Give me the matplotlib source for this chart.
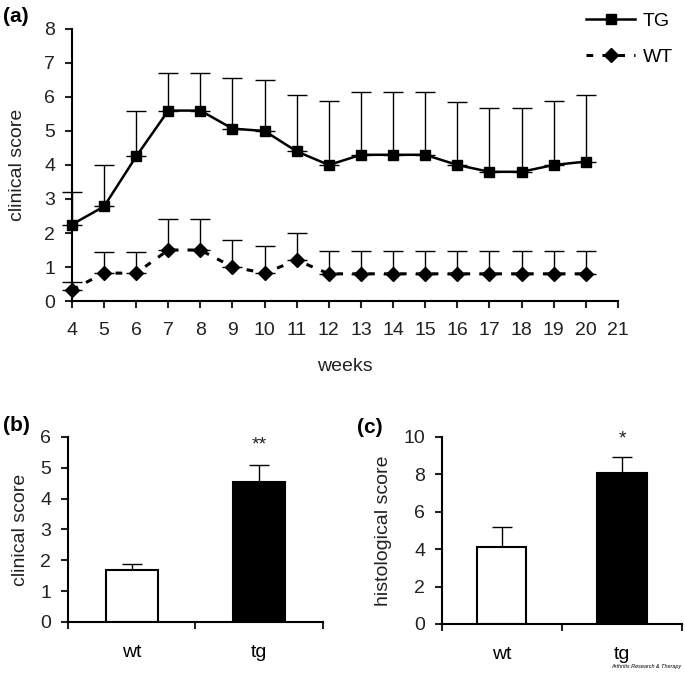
import numpy as np
import matplotlib as mpl
mpl.rcParams['font.family'] = ['Liberation Sans', 'DejaVu Sans']
mpl.rcParams['xtick.direction'] = 'out'
mpl.rcParams['ytick.direction'] = 'out'
from matplotlib import pyplot as plt

# - Panel (a) data
weeks = [4, 5, 6, 7, 8, 9, 10, 11, 12, 13, 14, 15, 16, 17, 18, 19, 20]
tg_mean = [2.25, 2.78, 4.25, 5.6, 5.6, 5.07, 5.0, 4.4, 4.0, 4.3, 4.3, 4.3, 4.0, 3.8, 3.8, 4.0, 4.1]
tg_top = [3.22, 4.0, 5.58, 6.7, 6.7, 6.55, 6.5, 6.07, 5.87, 6.15, 6.15, 6.15, 5.85, 5.68, 5.68, 5.88, 6.07]
wt_mean = [0.33, 0.82, 0.82, 1.5, 1.5, 1.0, 0.82, 1.2, 0.8, 0.8, 0.8, 0.8, 0.8, 0.8, 0.8, 0.8, 0.8]
wt_top = [0.56, 1.43, 1.43, 2.4, 2.4, 1.78, 1.62, 2.0, 1.47, 1.47, 1.47, 1.47, 1.47, 1.47, 1.47, 1.47, 1.47]

# - Panel (b) and (c) data
groups = ['wt', 'tg']
clin_mean = [1.68, 4.53]
clin_top = [1.88, 5.08]
hist_mean = [4.1, 8.05]
hist_top = [5.2, 8.9]
stars_b = ['', '**']
stars_c = ['', '*']

FS = 14
TXT = '#222222'


def style_axes(ax):
	""" Keep only left/bottom spines """
	ax.spines['top'].set_visible(False)
	ax.spines['right'].set_visible(False)
	ax.spines['left'].set_linewidth(1.5)
	ax.spines['bottom'].set_linewidth(1.5)
	ax.tick_params(width=1.5, length=5, labelsize=FS, colors=TXT)
	ax.tick_params(axis='y', pad=7)


def bar_panel(ax, means, tops, stars, ymax, ystep, ylabel, star_y):
	""" Draw bar panel with one-sided error bars """
	pos = np.arange(len(means)) + 0.5
	ax.bar(pos, means, width=0.41, color=['white', 'black'], edgecolor='black', linewidth=1.5, zorder=2)
	err = np.array(tops) - np.array(means)
	ax.errorbar(pos, means, yerr=[np.zeros(len(means)), err], fmt='none', ecolor='black',
		elinewidth=1.0, capsize=7, capthick=1.0, zorder=1)
	for p, s in zip(pos, stars):
		if s:
			ax.text(p, star_y, s, ha='center', va='center', fontsize=FS, color=TXT)
	ax.set_xlim(0, len(means))
	ax.set_ylim(0, ymax)
	ax.set_yticks(np.arange(0, ymax + 0.01, ystep))
	ax.set_xticks(np.arange(0, len(means) + 1))
	ax.set_xticklabels([])
	ax.set_xticks(pos, minor=True)
	ax.set_xticklabels(groups, minor=True)
	style_axes(ax)
	ax.tick_params(axis='x', which='minor', length=0, pad=16, labelsize=FS)
	ax.set_ylabel(ylabel, fontsize=FS, color=TXT, labelpad=8)


fig = plt.figure(figsize=(6.85, 6.74), dpi=100)

#===========================
#==   PANEL A
#===========================
ax = fig.add_axes([0.105, 0.5534, 0.797, 0.4036])
tg_err = np.array(tg_top) - np.array(tg_mean)
wt_err = np.array(wt_top) - np.array(wt_mean)
ax.errorbar(weeks, tg_mean, yerr=[np.zeros(len(weeks)), tg_err], fmt='none', ecolor='black',
	elinewidth=1.0, capsize=7, capthick=1.0, clip_on=False)
ax.errorbar(weeks, wt_mean, yerr=[np.zeros(len(weeks)), wt_err], fmt='none', ecolor='black',
	elinewidth=1.0, capsize=7, capthick=1.0, clip_on=False)
ax.plot(weeks, tg_mean, color='black', linewidth=1.8, marker='s', markersize=7, label='TG', clip_on=False, zorder=3)
ax.plot(weeks, wt_mean, color='black', linewidth=2.2, linestyle=(0, (2.2, 3)), marker='D', markersize=7.5,
	label='WT', clip_on=False, zorder=3)
ax.set_xlim(4, 21)
ax.set_ylim(0, 8)
ax.set_xticks(range(4, 22))
ax.set_yticks(range(0, 9))
style_axes(ax)
ax.tick_params(axis='x', pad=10)
ax.set_xlabel('weeks', fontsize=FS, color=TXT, labelpad=14)
ax.set_ylabel('clinical score', fontsize=FS, color=TXT, labelpad=13)
ax.legend(loc='upper right', bbox_to_anchor=(1.115, 1.09), frameon=False, fontsize=FS,
	handlelength=2.5, handletextpad=0.4, labelspacing=0.95, borderaxespad=0)

#===========================
#==   PANEL B / C
#===========================
axb = fig.add_axes([0.0993, 0.0772, 0.372, 0.2745])
bar_panel(axb, clin_mean, clin_top, stars_b, 6, 1, 'clinical score', 5.75)

axc = fig.add_axes([0.6448, 0.0742, 0.351, 0.278])
bar_panel(axc, hist_mean, hist_top, stars_c, 10, 2, 'histological score', 9.85)

# - Panel letters
fig.text(0.004, 0.976, '(a)', fontsize=15, fontweight='bold', va='center')
fig.text(0.004, 0.368, '(b)', fontsize=15, fontweight='bold', va='center')
fig.text(0.521, 0.365, '(c)', fontsize=15, fontweight='bold', va='center')
fig.text(0.995, 0.008, 'Arthritis Research & Therapy', fontsize=4, style='italic', ha='right', va='bottom')

plt.savefig('out.png', dpi=100)
